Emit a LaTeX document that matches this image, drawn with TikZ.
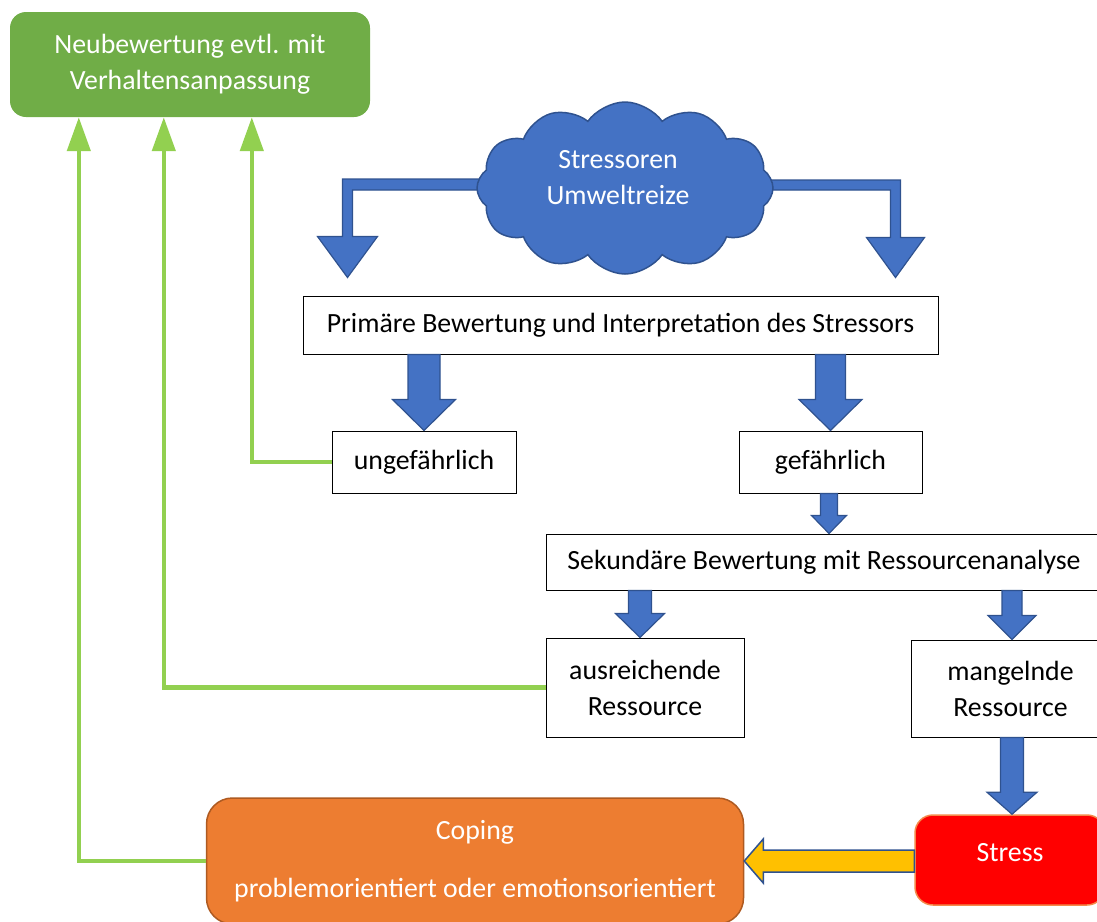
\documentclass[tikz,border=0pt]{standalone}
\usepackage{fontspec}
\setmainfont{Carlito}
\usetikzlibrary{shapes.symbols,arrows.meta,calc}
\definecolor{blu}{HTML}{4472C4}
\definecolor{bluD}{HTML}{2F528F}
\definecolor{grn}{HTML}{70AD47}
\definecolor{lgrn}{HTML}{92D050}
\definecolor{org}{HTML}{ED7D31}
\definecolor{orgD}{HTML}{AE5A21}
\definecolor{yel}{HTML}{FFC000}
\definecolor{strB}{HTML}{F4894A}
% block arrow pointing down: #1 start (y used), #2 tip, #3 shaft half width, #4 head half width, #5 head length
\newcommand\blkdown[5]{\draw[barrow] let \p1=#1, \p2=#2 in
  (\x2-#3,\y1) -- (\x2-#3,\y2+#5) -- (\x2-#4,\y2+#5) -- (\x2,\y2) --
  (\x2+#4,\y2+#5) -- (\x2+#3,\y2+#5) -- (\x2+#3,\y1) -- cycle;}
\begin{document}
\begin{tikzpicture}[x=1pt,y=-1pt,
  font=\fontsize{27.8}{36}\selectfont,
  box/.style={draw=black, line width=1pt, fill=white, inner sep=0pt, align=center},
  barrow/.style={fill=blu, draw=bluD, line width=1.2pt, line join=miter},
  yarrow/.style={fill=yel, draw=bluD, line width=1.5pt, line join=miter},
  gline/.style={draw=lgrn, line width=4.5pt, -{Triangle[length=34pt,width=23pt]}},
  wtext/.style={text=white, align=center, inner sep=0pt}]
\useasboundingbox (0,0) rectangle (1097,921);

% nodes
\node[wtext, fill=grn, rounded corners=16pt, minimum width=360pt, minimum height=105pt] (neu) at (190,64.5)
  {Neubewertung evtl. mit\\Verhaltensanpassung};
\node[box, minimum width=635pt, minimum height=58pt] (prim) at (620.5,325)
  {Primäre Bewertung und Interpretation des Stressors};
\node[box, minimum width=184pt, minimum height=62pt] (und) at (424,462) {ungefährlich};
\node[box, minimum width=183pt, minimum height=62pt] (gef) at (830.5,462) {gefährlich};
\node[box, minimum width=556pt, minimum height=56pt] (sek) at (824,562)
  {Sekundäre Bewertung mit Ressourcenanalyse};
\node[box, minimum width=198pt, minimum height=99pt] (aus) at (645,687.5) {ausreichende\\Ressource};
\node[box, minimum width=199pt, minimum height=97pt] (man) at (1010.5,688.5) {mangelnde\\Ressource};
\node[fill=red, draw=strB, line width=1.5pt, rounded corners=18pt,
  minimum width=190pt, minimum height=90pt] (stress) at (1010,860) {};
\node[wtext] (stresstxt) at ($(stress.center)+(0,-7)$) {Stress};
\node[wtext, fill=org, draw=orgD, line width=1.5pt, rounded corners=26pt,
  minimum width=537pt, minimum height=126pt] (coping) at (475,861)
  {Coping\\[22pt]problemorientiert oder emotionsorientiert};

% cloud with bent arrows
\coordinate (cc) at (625,188);
\coordinate (tipL) at ($(prim.north west)+(45,-18)$);
\coordinate (tipR) at ($(prim.north east)+(-43,-18)$);
\draw[barrow] let \p1=(cc), \p2=(tipL) in
  (\x1,\y1+9pt) -- (\x2-5pt,\y1+9pt) -- (\x2-5pt,\y2+41pt) -- (\x2-30pt,\y2+41pt) -- (\x2,\y2) --
  (\x2+30pt,\y2+41pt) -- (\x2+5pt,\y2+41pt) -- (\x2+5pt,\y1-2pt) -- (\x1,\y1-2pt) -- cycle;
\draw[barrow] let \p1=(cc), \p2=(tipR) in
  (\x1,\y1+8pt) -- (\x2+5pt,\y1+8pt) -- (\x2+5pt,\y2+40pt) -- (\x2+29pt,\y2+40pt) -- (\x2,\y2) --
  (\x2-29pt,\y2+40pt) -- (\x2-5pt,\y2+40pt) -- (\x2-5pt,\y1-2pt) -- (\x1,\y1-2pt) -- cycle;
\node[cloud, cloud puffs=12, cloud puff arc=110, aspect=1.73, fill=blu, draw=bluD, line width=1.5pt,
  minimum width=296pt, minimum height=172pt, inner sep=0pt] (cloud) at (cc) {};
\node[wtext] (cloudtxt) at ($(cloud.center)+(-7,-10)$) {Stressoren\\Umweltreize};

% blue block arrows
\blkdown{(prim.south)}{(und.north)}{16pt}{31.5pt}{31pt}
\blkdown{(prim.south)}{(gef.north)}{15pt}{31.5pt}{31pt}
\blkdown{(gef.south)}{($(gef.south |- sek.north)+(-1.5,0)$)}{8.5pt}{17.5pt}{18pt}
\blkdown{(sek.south)}{($(aus.north)+(-5,0)$)}{11.5pt}{24.5pt}{24pt}
\blkdown{(sek.south)}{($(man.north)+(1.5,0)$)}{10pt}{24pt}{24pt}
\blkdown{(man.south)}{($(man.south |- stress.north)+(1.5,0)$)}{11.5pt}{25pt}{22pt}

% yellow arrow Stress -> Coping
\draw[yarrow] let \p1=(stress.west), \p2=(coping.east) in
  (\x1,\y2+11pt) -- (\x2+19pt,\y2+11pt) -- (\x2+19pt,\y2+22pt) -- (\x2,\y2) --
  (\x2+19pt,\y2-22pt) -- (\x2+19pt,\y2-11pt) -- (\x1,\y2-11pt) -- cycle;

% green feedback arrows
\draw[gline] (und.west) -| ($(neu.south west)+(242,0)$);
\draw[gline] (aus.west) -| ($(neu.south west)+(154,0)$);
\draw[gline] (coping.west) -| ($(neu.south west)+(69,0)$);
\end{tikzpicture}
\end{document}
